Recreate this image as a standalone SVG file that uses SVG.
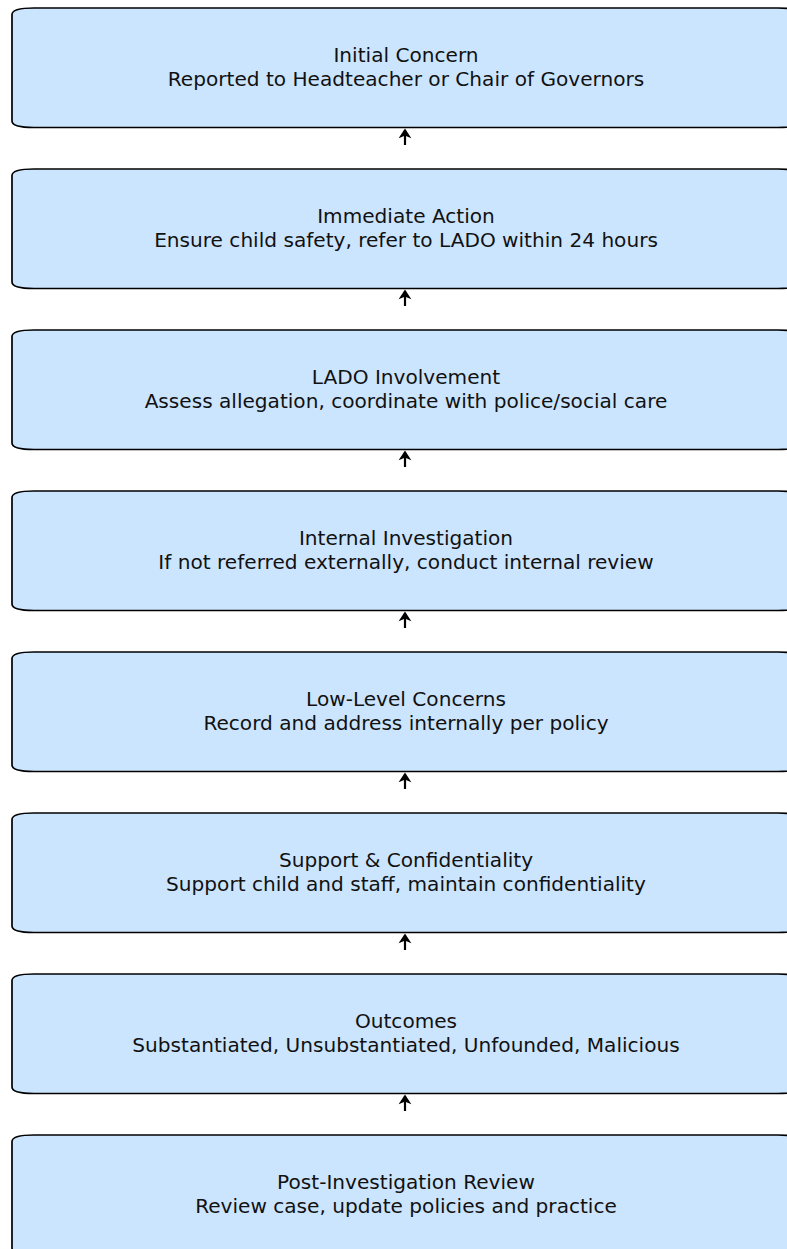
<svg xmlns="http://www.w3.org/2000/svg" width="787" height="1249" viewBox="0 0 787 1249">
<style>
  .box { fill: #cce5ff; stroke: #000000; stroke-width: 1.7; }
  .t { font-family: "DejaVu Sans", "Liberation Sans", sans-serif; font-size: 20.1px; fill: #111111; text-anchor: middle; }
  .conn { stroke: #000000; stroke-width: 2.2; fill: none; }
</style>
<defs>
  <path id="bx" d="M34,8 L778,8 Q800,8 800,14.5 L800,121 Q800,127.5 778,127.5 L34,127.5 Q12,127.5 12,121 L12,14.5 Q12,8 34,8 Z"/>
  <marker id="ah" markerUnits="userSpaceOnUse" markerWidth="12" markerHeight="12" viewBox="-8 -6 10 12" refX="0" refY="0" orient="auto" overflow="visible">
    <path d="M-6.5,-4.3 L0,0 L-6.5,4.3 L-4.8,0 Z" fill="#000" stroke="#000" stroke-width="1.6" stroke-linejoin="miter"/>
  </marker>
</defs>
<g id="connectors">
  <line class="conn" x1="405" y1="145" x2="405" y2="130" marker-end="url(#ah)"/>
  <line class="conn" x1="405" y1="306" x2="405" y2="291" marker-end="url(#ah)"/>
  <line class="conn" x1="405" y1="467" x2="405" y2="452" marker-end="url(#ah)"/>
  <line class="conn" x1="405" y1="628" x2="405" y2="613" marker-end="url(#ah)"/>
  <line class="conn" x1="405" y1="789" x2="405" y2="774" marker-end="url(#ah)"/>
  <line class="conn" x1="405" y1="950" x2="405" y2="935" marker-end="url(#ah)"/>
  <line class="conn" x1="405" y1="1111" x2="405" y2="1096" marker-end="url(#ah)"/>
</g>
<g id="node1">
  <use href="#bx" class="box"/>
  <text class="t" x="406" y="61.7">Initial Concern</text>
  <text class="t" x="406" y="85.7">Reported to Headteacher or Chair of Governors</text>
</g>
<g id="node2" transform="translate(0,161)">
  <use href="#bx" class="box"/>
  <text class="t" x="406" y="61.7">Immediate Action</text>
  <text class="t" x="406" y="85.7">Ensure child safety, refer to LADO within 24 hours</text>
</g>
<g id="node3" transform="translate(0,322)">
  <use href="#bx" class="box"/>
  <text class="t" x="406" y="61.7">LADO Involvement</text>
  <text class="t" x="406" y="85.7">Assess allegation, coordinate with police/social care</text>
</g>
<g id="node4" transform="translate(0,483)">
  <use href="#bx" class="box"/>
  <text class="t" x="406" y="61.7">Internal Investigation</text>
  <text class="t" x="406" y="85.7">If not referred externally, conduct internal review</text>
</g>
<g id="node5" transform="translate(0,644)">
  <use href="#bx" class="box"/>
  <text class="t" x="406" y="61.7">Low-Level Concerns</text>
  <text class="t" x="406" y="85.7">Record and address internally per policy</text>
</g>
<g id="node6" transform="translate(0,805)">
  <use href="#bx" class="box"/>
  <text class="t" x="406" y="61.7">Support &amp; Confidentiality</text>
  <text class="t" x="406" y="85.7">Support child and staff, maintain confidentiality</text>
</g>
<g id="node7" transform="translate(0,966)">
  <use href="#bx" class="box"/>
  <text class="t" x="406" y="61.7">Outcomes</text>
  <text class="t" x="406" y="85.7">Substantiated, Unsubstantiated, Unfounded, Malicious</text>
</g>
<g id="node8" transform="translate(0,1127)">
  <use href="#bx" class="box"/>
  <text class="t" x="406" y="61.7">Post-Investigation Review</text>
  <text class="t" x="406" y="85.7">Review case, update policies and practice</text>
</g>
</svg>
